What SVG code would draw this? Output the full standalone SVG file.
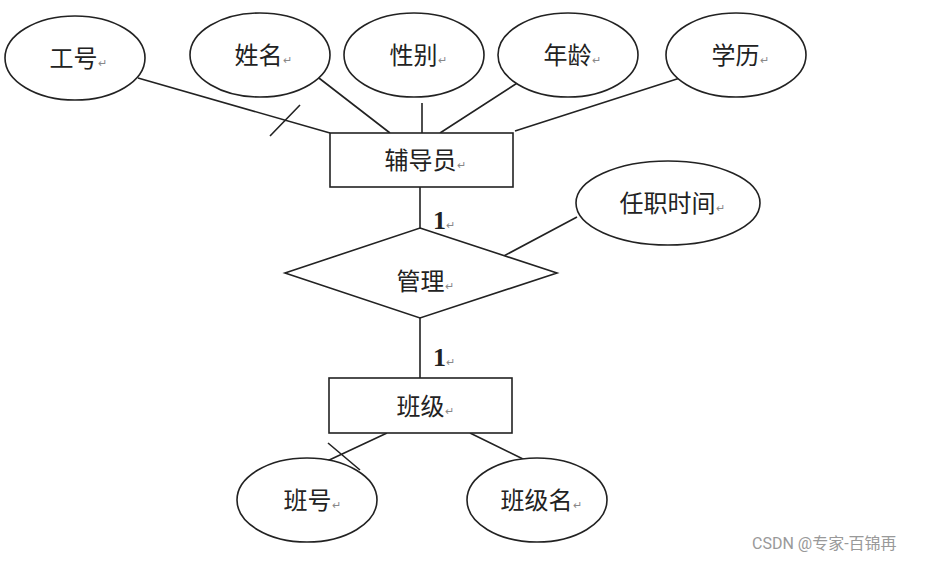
<svg xmlns="http://www.w3.org/2000/svg" width="945" height="561" viewBox="0 0 945 561">
<style>
.s{fill:#fff;stroke:#222;stroke-width:1.6}
.l{stroke:#222;stroke-width:1.6;fill:none}
.t{font-family:"Noto Sans CJK SC",sans-serif;font-size:24px;fill:#222;text-anchor:middle}
.m{font-size:11px;fill:#888}
.n{font-family:"Liberation Serif",serif;font-size:26px;font-weight:bold;fill:#222}
</style>
<rect width="945" height="561" fill="#fff"/>
<g id="connectors">
<path class="l" d="M138 78L330 133M270 136L300 105M315 75L390 133M422 103V133M525 78L440 133M680 78L515 131M420 187V228M420 318V378M577 217L500 258M387 433L325 462M328 443L360 470M470 433L525 460"/>
</g>
<g id="gonghao"><ellipse class="s" cx="75" cy="58" rx="70" ry="42"/><text class="t" x="78" y="67">工号<tspan class="m">↵</tspan></text></g>
<g id="xingming"><ellipse class="s" cx="260" cy="55" rx="70" ry="42"/><text class="t" x="263" y="64">姓名<tspan class="m">↵</tspan></text></g>
<g id="xingbie"><ellipse class="s" cx="414" cy="55" rx="70" ry="42"/><text class="t" x="418" y="64">性别<tspan class="m">↵</tspan></text></g>
<g id="nianling"><ellipse class="s" cx="568" cy="55" rx="70" ry="42"/><text class="t" x="572" y="64">年龄<tspan class="m">↵</tspan></text></g>
<g id="xueli"><ellipse class="s" cx="736" cy="55" rx="70" ry="42"/><text class="t" x="740" y="64">学历<tspan class="m">↵</tspan></text></g>
<g id="fudaoyuan"><rect class="s" x="330" y="133" width="183" height="54"/><text class="t" x="425" y="169">辅导员<tspan class="m">↵</tspan></text></g>
<g id="guanli"><polygon class="s" points="420,228 557,273 420,318 285,273"/><text class="t" x="425" y="290">管理<tspan class="m">↵</tspan></text></g>
<g id="renzhishijian"><ellipse class="s" cx="668" cy="203" rx="92" ry="42"/><text class="t" x="672" y="212">任职时间<tspan class="m">↵</tspan></text></g>
<text class="n" x="433" y="229">1<tspan class="m" font-weight="normal">↵</tspan></text>
<text class="n" x="433" y="366">1<tspan class="m" font-weight="normal">↵</tspan></text>
<g id="banji"><rect class="s" x="329" y="378" width="183" height="55"/><text class="t" x="425" y="415">班级<tspan class="m">↵</tspan></text></g>
<g id="banhao"><ellipse class="s" cx="307" cy="500" rx="70" ry="42"/><text class="t" x="312" y="509">班号<tspan class="m">↵</tspan></text></g>
<g id="banjiming"><ellipse class="s" cx="537" cy="500" rx="70" ry="42"/><text class="t" x="541" y="509">班级名<tspan class="m">↵</tspan></text></g>
<text x="752" y="549" font-family="Roboto,'Noto Sans CJK SC',sans-serif" font-size="16" fill="#999">CSDN @专家-百锦再</text>
</svg>
